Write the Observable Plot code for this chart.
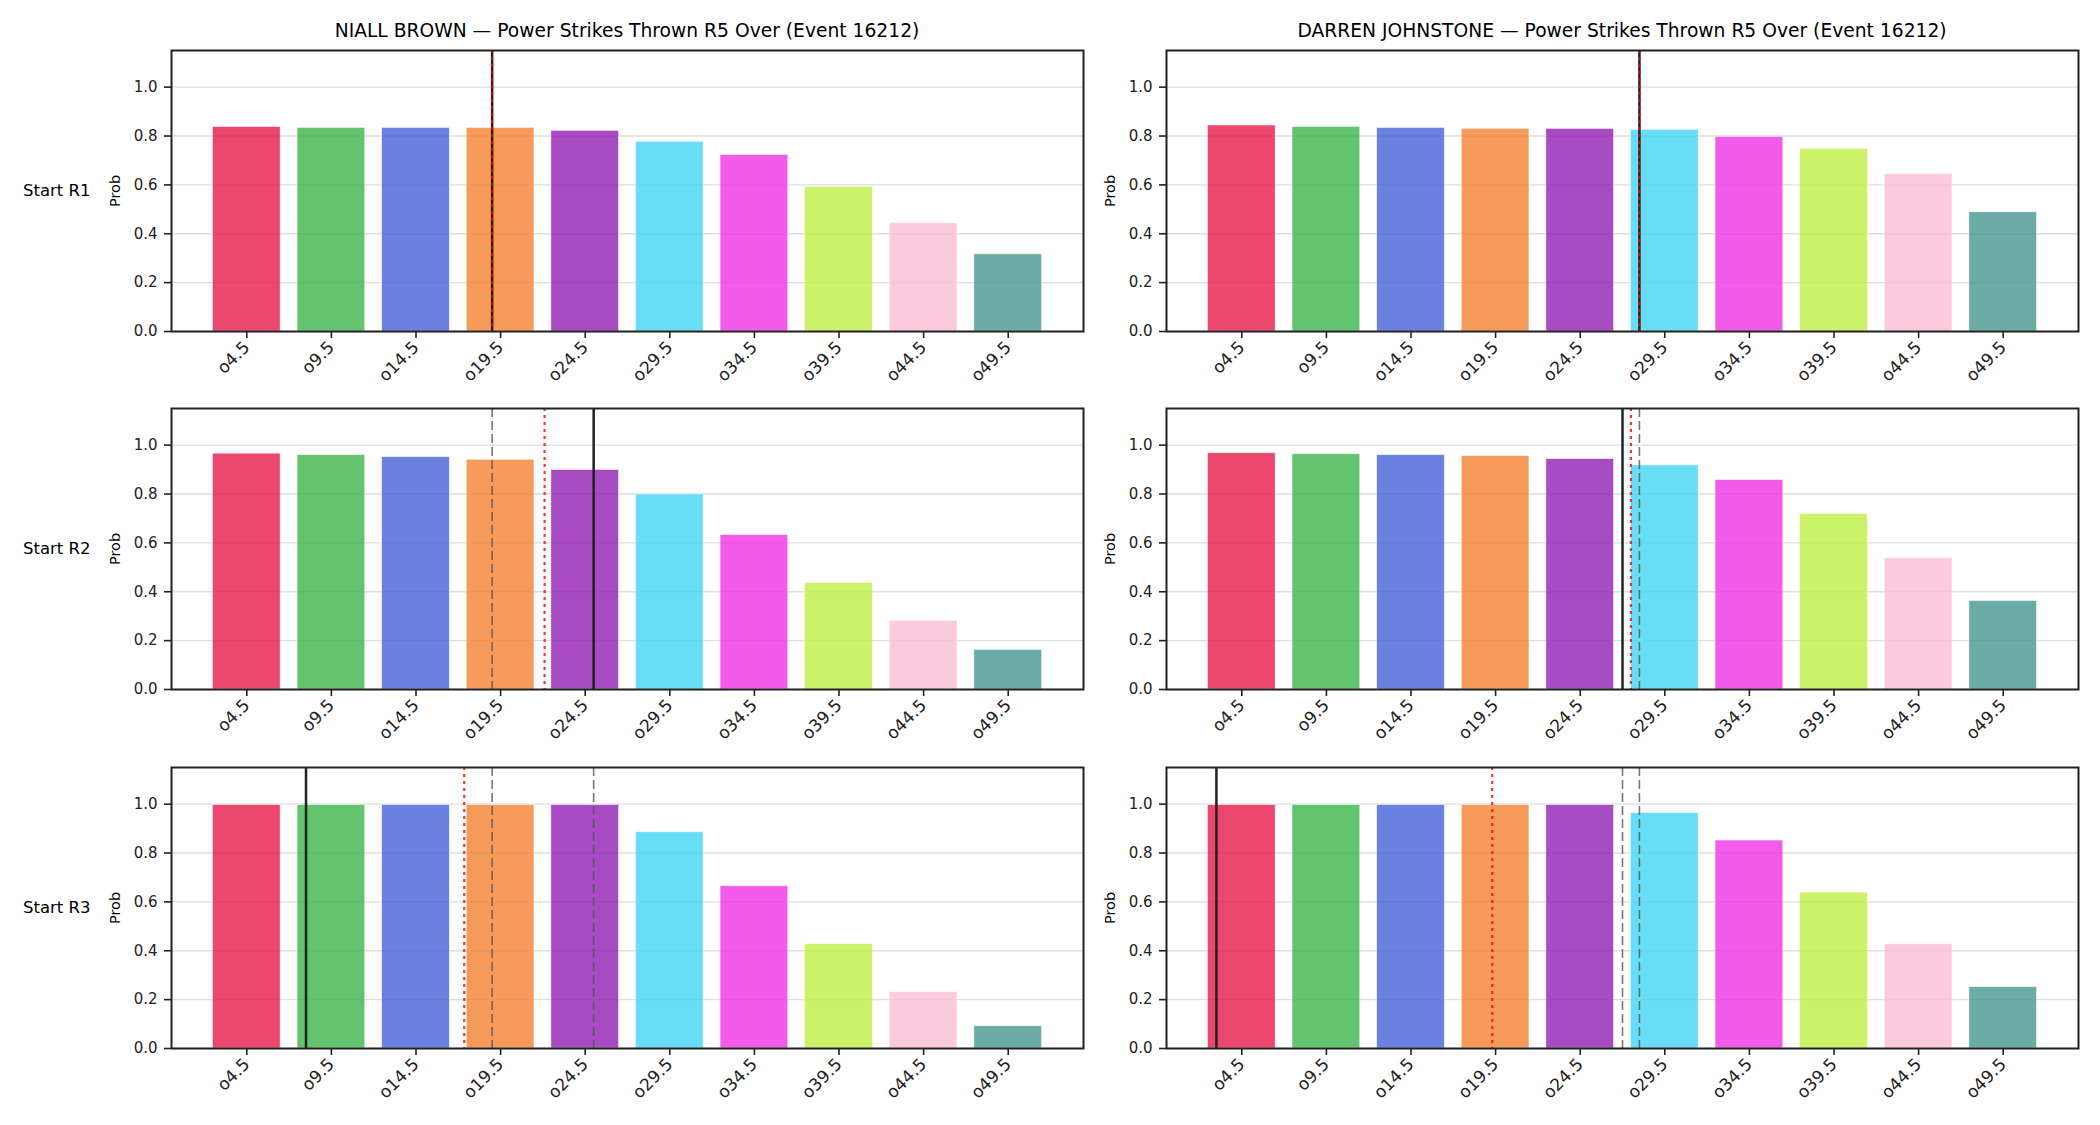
<!DOCTYPE html>
<html>
<head>
<meta charset="utf-8">
<script src="https://cdn.jsdelivr.net/npm/d3@7"></script>
<script src="https://cdn.jsdelivr.net/npm/@observablehq/plot@0.6"></script>
<style>
  body { margin: 0; background: #fff; }
  #root { position: relative; width: 2100px; height: 1125px; background: #fff; font-family: "DejaVu Sans", sans-serif; color: #000; overflow: hidden; }
  .title { position: absolute; font-size: 18.7px; line-height: 1; white-space: nowrap; transform: translateX(-50%); }
  .row { position: absolute; font-size: 16.5px; line-height: 1; white-space: nowrap; transform: translateY(-50%); }
  .ylab { position: absolute; font-size: 14.5px; line-height: 1; white-space: nowrap; transform: translate(-50%, -50%) rotate(-90deg); }
  .panel { position: absolute; }
</style>
</head>
<body>
<div id="root"></div>
<script>
// ---- data ----
const lines = [4.5, 9.5, 14.5, 19.5, 24.5, 29.5, 34.5, 39.5, 44.5, 49.5];
const barColors = ["#e6194b", "#3cb44b", "#4363d8", "#f58231", "#911eb4", "#42d4f4", "#f032e6", "#bfef45", "#fabed4", "#469990"];
const players = ["NIALL BROWN", "DARREN JOHNSTONE"];
const rounds = ["Start R1", "Start R2", "Start R3"];
const titleSuffix = " — Power Strikes Thrown R5 Over (Event 16212)";
const yTicks = [0, 0.2, 0.4, 0.6, 0.8, 1.0];

const niallR1 = [0.837, 0.833, 0.833, 0.833, 0.821, 0.776, 0.722, 0.591, 0.443, 0.316];
const niallR2 = [0.965, 0.959, 0.951, 0.940, 0.898, 0.798, 0.632, 0.436, 0.281, 0.162];
const niallR3 = [0.996, 0.996, 0.996, 0.996, 0.996, 0.885, 0.664, 0.427, 0.231, 0.091];
const darrenR1 = [0.843, 0.837, 0.833, 0.829, 0.829, 0.825, 0.796, 0.747, 0.644, 0.488];
const darrenR2 = [0.967, 0.963, 0.959, 0.955, 0.943, 0.917, 0.857, 0.718, 0.537, 0.362];
const darrenR3 = [0.996, 0.996, 0.996, 0.996, 0.996, 0.963, 0.851, 0.638, 0.427, 0.251];

// vertical reference lines (in line units)
const niallSolid = [19.0, 25.0, 8.0];
const niallDotted = [19.0, 22.1, 17.35];
const niallDashed = [[], [19.0], [19.0, 25.0]];
const darrenSolid = [28.0, 27.0, 3.0];
const darrenDotted = [28.0, 27.5, 19.3];
const darrenDashed = [[], [28.0], [27.0, 28.0]];

const probs = [[niallR1, niallR2, niallR3], [darrenR1, darrenR2, darrenR3]];
const solids = [niallSolid, darrenSolid];
const dotteds = [niallDotted, darrenDotted];
const dasheds = [niallDashed, darrenDashed];

// ---- layout ----
const BAR_HALF = 2;               // bar half-width in line units (0.8 of spacing)
const frameLefts = [171, 1166];
const frameTops = [50, 408, 767];
const frameW = 912, frameH = 281;
const mL = 75, mR = 5, mT = 10, mB = 75;

const root = document.getElementById("root");

players.forEach((player, c) => {
  const t = document.createElement("div");
  t.className = "title";
  t.textContent = player + titleSuffix;
  t.style.left = (frameLefts[c] + frameW / 2) + "px";
  t.style.top = "22px";
  root.appendChild(t);

  rounds.forEach((round, r) => {
    const data = lines.map((l, i) => ({line: l, p: probs[c][r][i], color: barColors[i]}));
    const plot = Plot.plot({
      width: mL + frameW + mR,
      height: mT + frameH + mB,
      marginLeft: mL, marginRight: mR, marginTop: mT, marginBottom: mB,
      x: {domain: [0.05, 53.95]},
      y: {domain: [0, 1.15]},
      style: {background: "transparent", fontFamily: "DejaVu Sans, sans-serif", fontSize: "15px", color: "#222", overflow: "visible"},
      marks: [
        Plot.gridY(yTicks, {stroke: "#dedede", strokeOpacity: 1, strokeWidth: 1.3}),
        Plot.rectY(data, {x1: d => d.line - BAR_HALF, x2: d => d.line + BAR_HALF, y: "p", fill: "color", fillOpacity: 0.8, stroke: "white", strokeWidth: 0.8, strokeOpacity: 0.6}),
        Plot.ruleX(dasheds[c][r], {stroke: "#555", strokeOpacity: 0.8, strokeDasharray: "9,4", strokeWidth: 1.6}),
        Plot.ruleX([solids[c][r]], {stroke: "#222", strokeWidth: 2.5}),
        Plot.ruleX([dotteds[c][r]], {stroke: "red", strokeOpacity: 0.8, strokeDasharray: "3,4", strokeWidth: 2.2}),
        Plot.frame({stroke: "#222", strokeWidth: 2}),
        Plot.axisY({ticks: yTicks, tickFormat: d3.format(".1f"), tickSize: 7, tickPadding: 7, label: null, strokeWidth: 1.6, fill: "#222", fontSize: 15}),
        Plot.axisX({ticks: lines, tickFormat: d => "o" + d, tickRotate: -45, tickSize: 7, tickPadding: 6, label: null, strokeWidth: 1.6, fill: "#222", fontSize: 17})
      ]
    });
    plot.classList.add("panel");
    plot.style.left = (frameLefts[c] - mL) + "px";
    plot.style.top = (frameTops[r] - mT) + "px";
    root.appendChild(plot);

    const yl = document.createElement("div");
    yl.className = "ylab";
    yl.textContent = "Prob";
    yl.style.left = (frameLefts[c] - 56) + "px";
    yl.style.top = (frameTops[r] + frameH / 2) + "px";
    root.appendChild(yl);

    if (c === 0) {
      const rl = document.createElement("div");
      rl.className = "row";
      rl.textContent = round;
      rl.style.left = "23px";
      rl.style.top = (frameTops[r] + frameH / 2) + "px";
      root.appendChild(rl);
    }
  });
});
</script>
</body>
</html>
